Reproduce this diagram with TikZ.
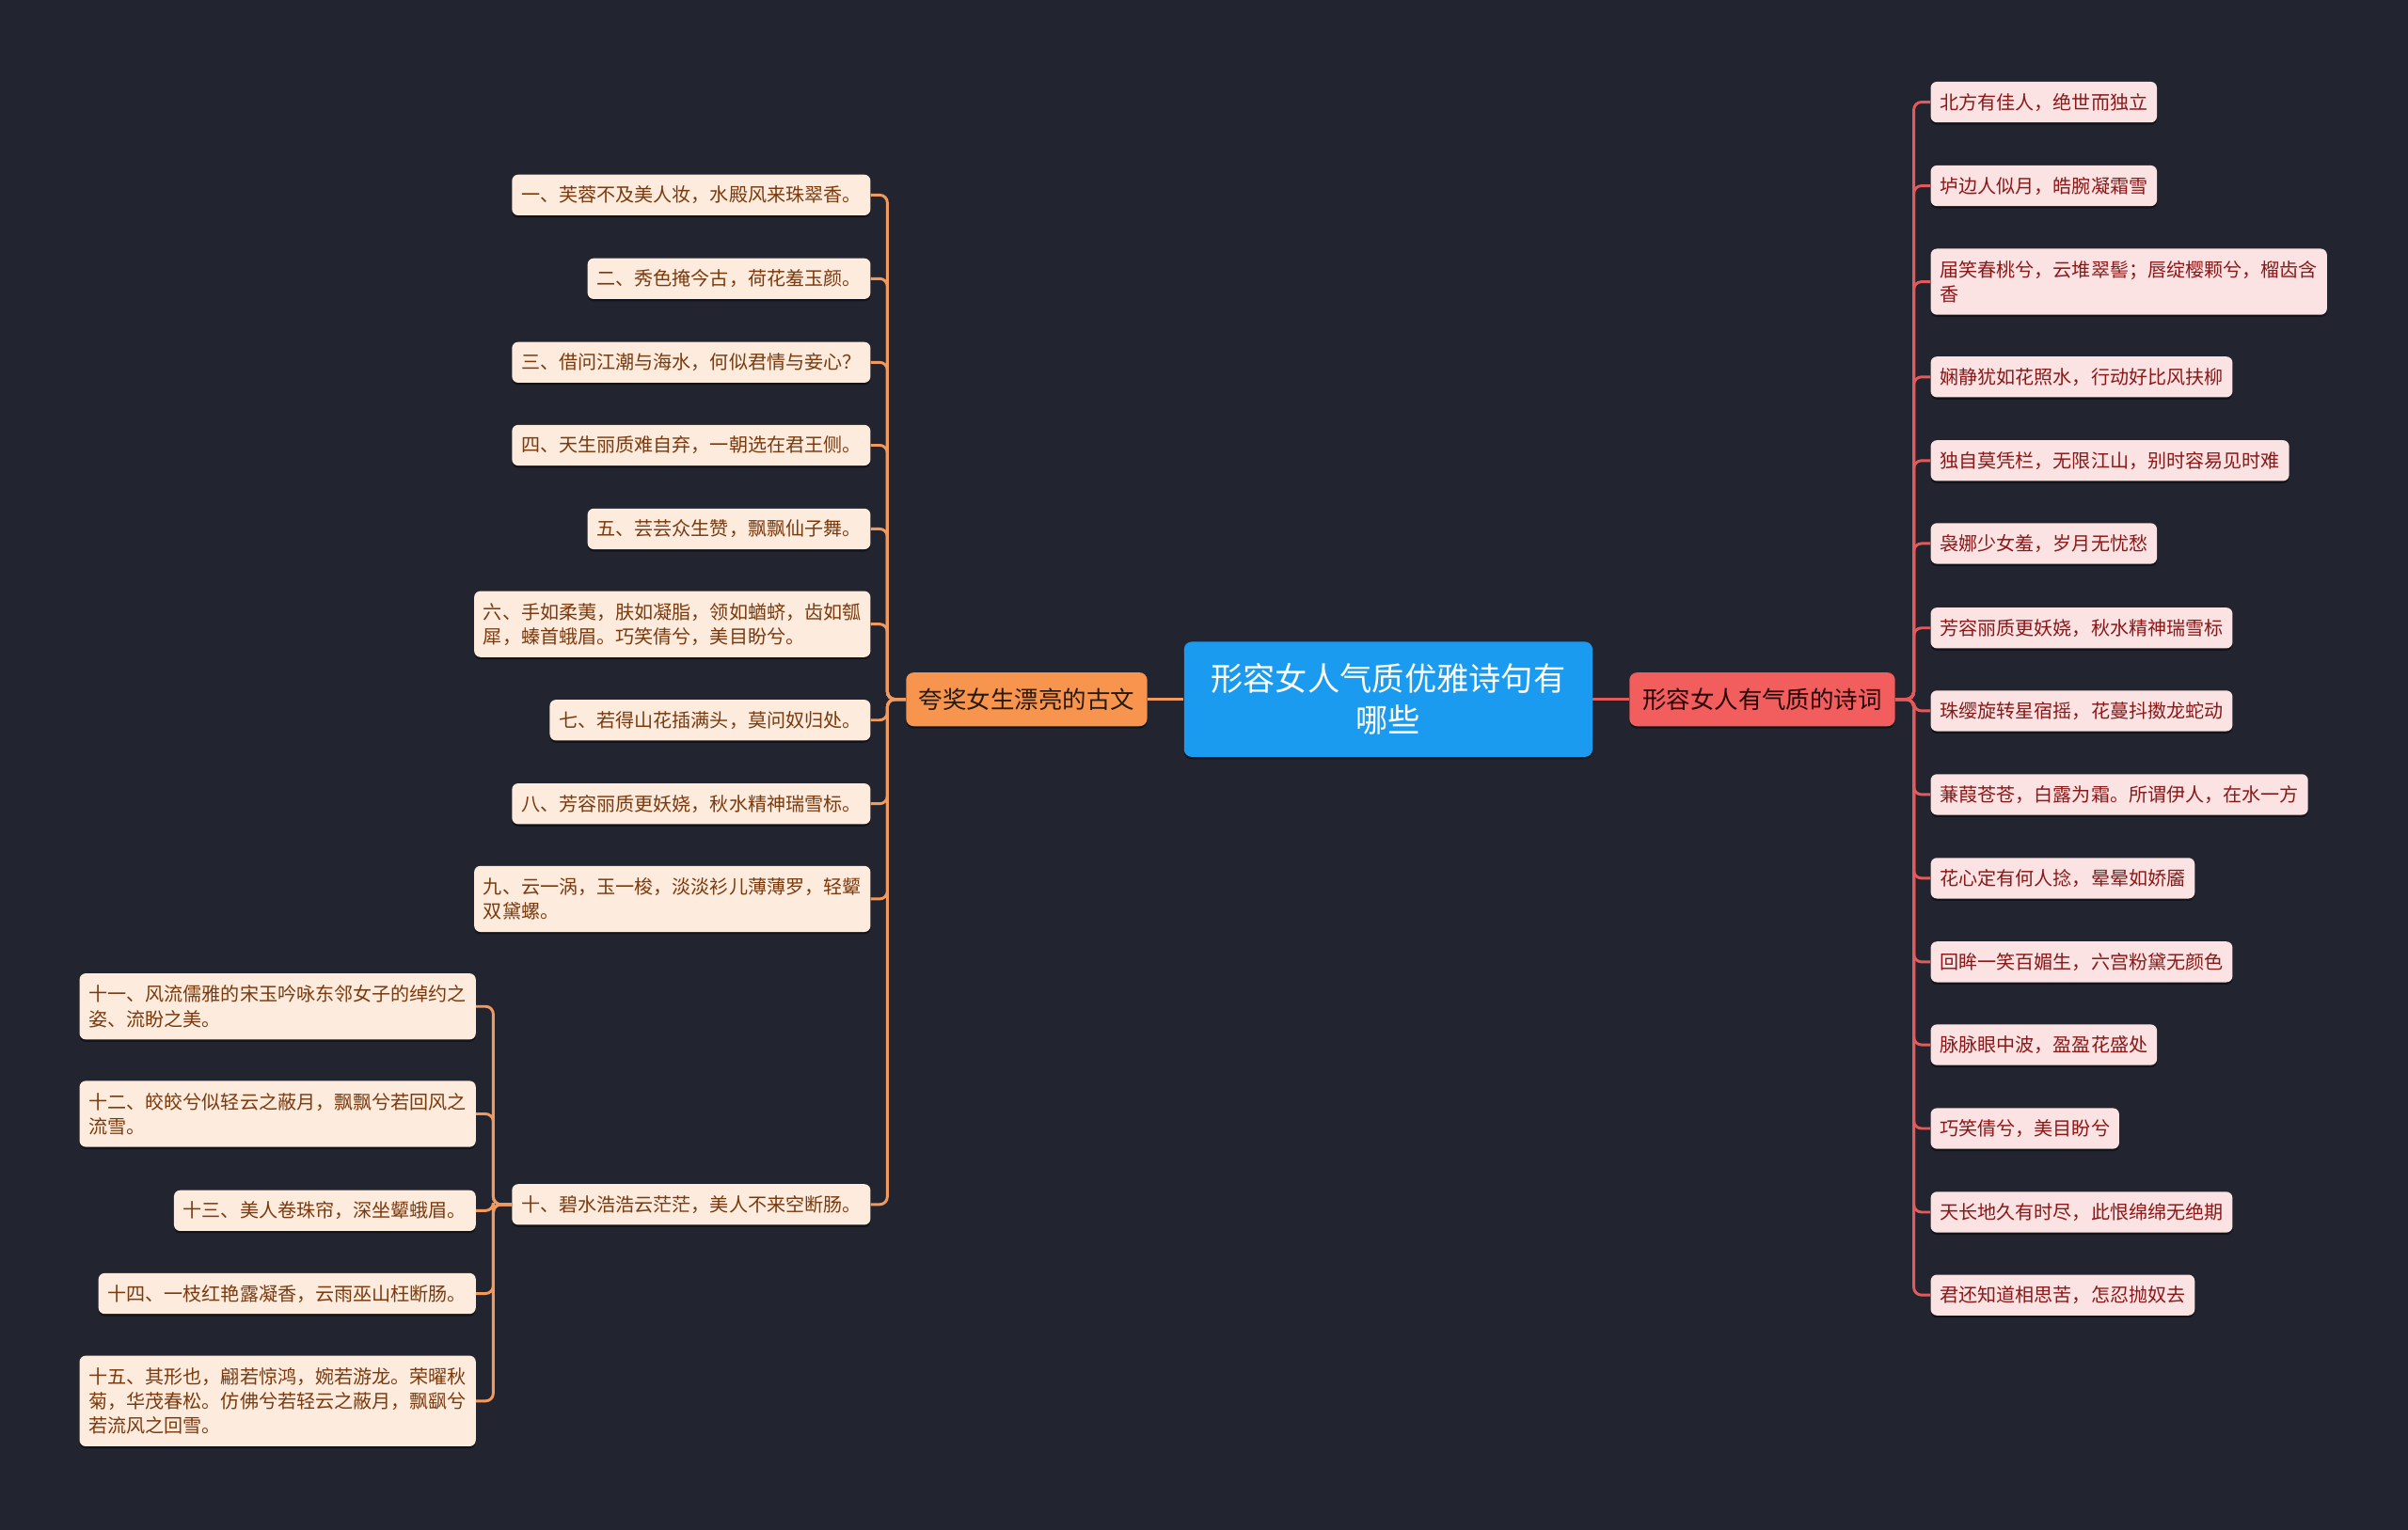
\documentclass[tikz,border=0pt]{standalone}
\usepackage{fontspec}
\setmainfont{Noto Sans CJK SC}
\usetikzlibrary{shadows}
\definecolor{bg}{HTML}{22252F}
\definecolor{lfill}{HTML}{FDEBDD}
\definecolor{ltext}{HTML}{7A3A0E}
\definecolor{rfill}{HTML}{FCE3E3}
\definecolor{rtext}{HTML}{8A1818}
\definecolor{lline}{HTML}{F29A5E}
\definecolor{rline}{HTML}{E45A5A}
\definecolor{cblue}{HTML}{1A9BF0}
\definecolor{corange}{HTML}{F7944E}
\definecolor{cred}{HTML}{F25D5D}
\tikzset{
  leaf/.style={rounded corners=4pt, inner xsep=6pt, inner ysep=2pt,
    minimum height=26.5pt, align=left,
    font=\fontsize{12.3}{16}\selectfont,
    drop shadow={shadow xshift=0pt, shadow yshift=-1.5pt, opacity=0.45, fill=black}},
  lbox/.style={leaf, fill=lfill, text=ltext, anchor=east},
  rbox/.style={leaf, fill=rfill, text=rtext, anchor=west},
  twoline/.style={minimum height=43pt},
  threeline/.style={minimum height=59pt},
  mainbox/.style={rounded corners=5pt, inner sep=0pt, align=center,
    drop shadow={shadow xshift=0pt, shadow yshift=-1.5pt, opacity=0.45, fill=black}},
  lconn/.style={draw=lline, line width=1.8pt, rounded corners=5pt},
  rconn/.style={draw=rline, line width=1.8pt, rounded corners=5pt}
}
\begin{document}
\begin{tikzpicture}[x=1pt,y=-1pt]
\useasboundingbox (0,0) rectangle (1568,996);
\fill[bg] (-4,-4) rectangle (1572,1000);

% main nodes
\node[mainbox, fill=cblue, text=white, minimum width=266pt, minimum height=75pt,
  font=\fontsize{21}{27}\selectfont] (C) at (904,455.5) {形容女人气质优雅诗句有\\哪些};
\node[mainbox, fill=corange, text=black!80!brown, minimum width=157pt, minimum height=35pt,
  font=\fontsize{15.6}{18}\selectfont] (L) at (668.5,455.5) {夸奖女生漂亮的古文};
\node[mainbox, fill=cred, text=black!85!red, minimum width=173pt, minimum height=35pt,
  font=\fontsize{15.6}{18}\selectfont] (R) at (1147.5,455.5) {形容女人有气质的诗词};

% left children
\node[lbox] (l1) at (567,127) {一、芙蓉不及美人妆，水殿风来珠翠香。};
\node[lbox] (l2) at (567,181.5) {二、秀色掩今古，荷花羞玉颜。};
\node[lbox] (l3) at (567,236) {三、借问江潮与海水，何似君情与妾心？};
\node[lbox] (l4) at (567,290) {四、天生丽质难自弃，一朝选在君王侧。};
\node[lbox] (l5) at (567,344.5) {五、芸芸众生赞，飘飘仙子舞。};
\node[lbox, twoline] (l6) at (567,406.5) {六、手如柔荑，肤如凝脂，领如蝤蛴，齿如瓠\\犀，螓首蛾眉。巧笑倩兮，美目盼兮。};
\node[lbox] (l7) at (567,469) {七、若得山花插满头，莫问奴归处。};
\node[lbox] (l8) at (567,523.5) {八、芳容丽质更妖娆，秋水精神瑞雪标。};
\node[lbox, twoline] (l9) at (567,585.5) {九、云一涡，玉一梭，淡淡衫儿薄薄罗，轻颦\\双黛螺。};
\node[lbox] (l10) at (567,784.5) {十、碧水浩浩云茫茫，美人不来空断肠。};

\node[lbox, twoline] (l11) at (310,655.5) {十一、风流儒雅的宋玉吟咏东邻女子的绰约之\\姿、流盼之美。};
\node[lbox, twoline] (l12) at (310,725.5) {十二、皎皎兮似轻云之蔽月，飘飘兮若回风之\\流雪。};
\node[lbox] (l13) at (310,788.5) {十三、美人卷珠帘，深坐颦蛾眉。};
\node[lbox] (l14) at (310,842.5) {十四、一枝红艳露凝香，云雨巫山枉断肠。};
\node[lbox, threeline] (l15) at (310,912.5) {十五、其形也，翩若惊鸿，婉若游龙。荣曜秋\\菊，华茂春松。仿佛兮若轻云之蔽月，飘飖兮\\若流风之回雪。};

% right children
\node[rbox] (r1) at (1257,66.5) {北方有佳人，绝世而独立};
\node[rbox] (r2) at (1257,121) {垆边人似月，皓腕凝霜雪};
\node[rbox, twoline] (r3) at (1257,183.5) {届笑春桃兮，云堆翠髻；唇绽樱颗兮，榴齿含\\香};
\node[rbox] (r4) at (1257,245.5) {娴静犹如花照水，行动好比风扶柳};
\node[rbox] (r5) at (1257,300) {独自莫凭栏，无限江山，别时容易见时难};
\node[rbox] (r6) at (1257,354) {袅娜少女羞，岁月无忧愁};
\node[rbox] (r7) at (1257,409) {芳容丽质更妖娆，秋水精神瑞雪标};
\node[rbox] (r8) at (1257,463) {珠缨旋转星宿摇，花蔓抖擞龙蛇动};
\node[rbox] (r9) at (1257,517.5) {蒹葭苍苍，白露为霜。所谓伊人，在水一方};
\node[rbox] (r10) at (1257,572) {花心定有何人捻，晕晕如娇靥};
\node[rbox] (r11) at (1257,626.5) {回眸一笑百媚生，六宫粉黛无颜色};
\node[rbox] (r12) at (1257,680.5) {脉脉眼中波，盈盈花盛处};
\node[rbox] (r13) at (1257,735) {巧笑倩兮，美目盼兮};
\node[rbox] (r14) at (1257,789.5) {天长地久有时尽，此恨绵绵无绝期};
\node[rbox] (r15) at (1257,843.5) {君还知道相思苦，怎忍抛奴去};

% connectors
\draw[lconn] (C.west) -- (L.east);
\draw[rconn] (C.east) -- (R.west);
\foreach \i in {1,...,10}
  \draw[lconn] (L.west) -- ++(-12,0) |- (l\i.east);
\foreach \i in {11,...,15}
  \draw[lconn] (l10.west) -- ++(-12,0) |- (l\i.east);
\foreach \i in {1,...,15}
  \draw[rconn] (R.east) -- ++(12,0) |- (r\i.west);
\end{tikzpicture}
\end{document}
